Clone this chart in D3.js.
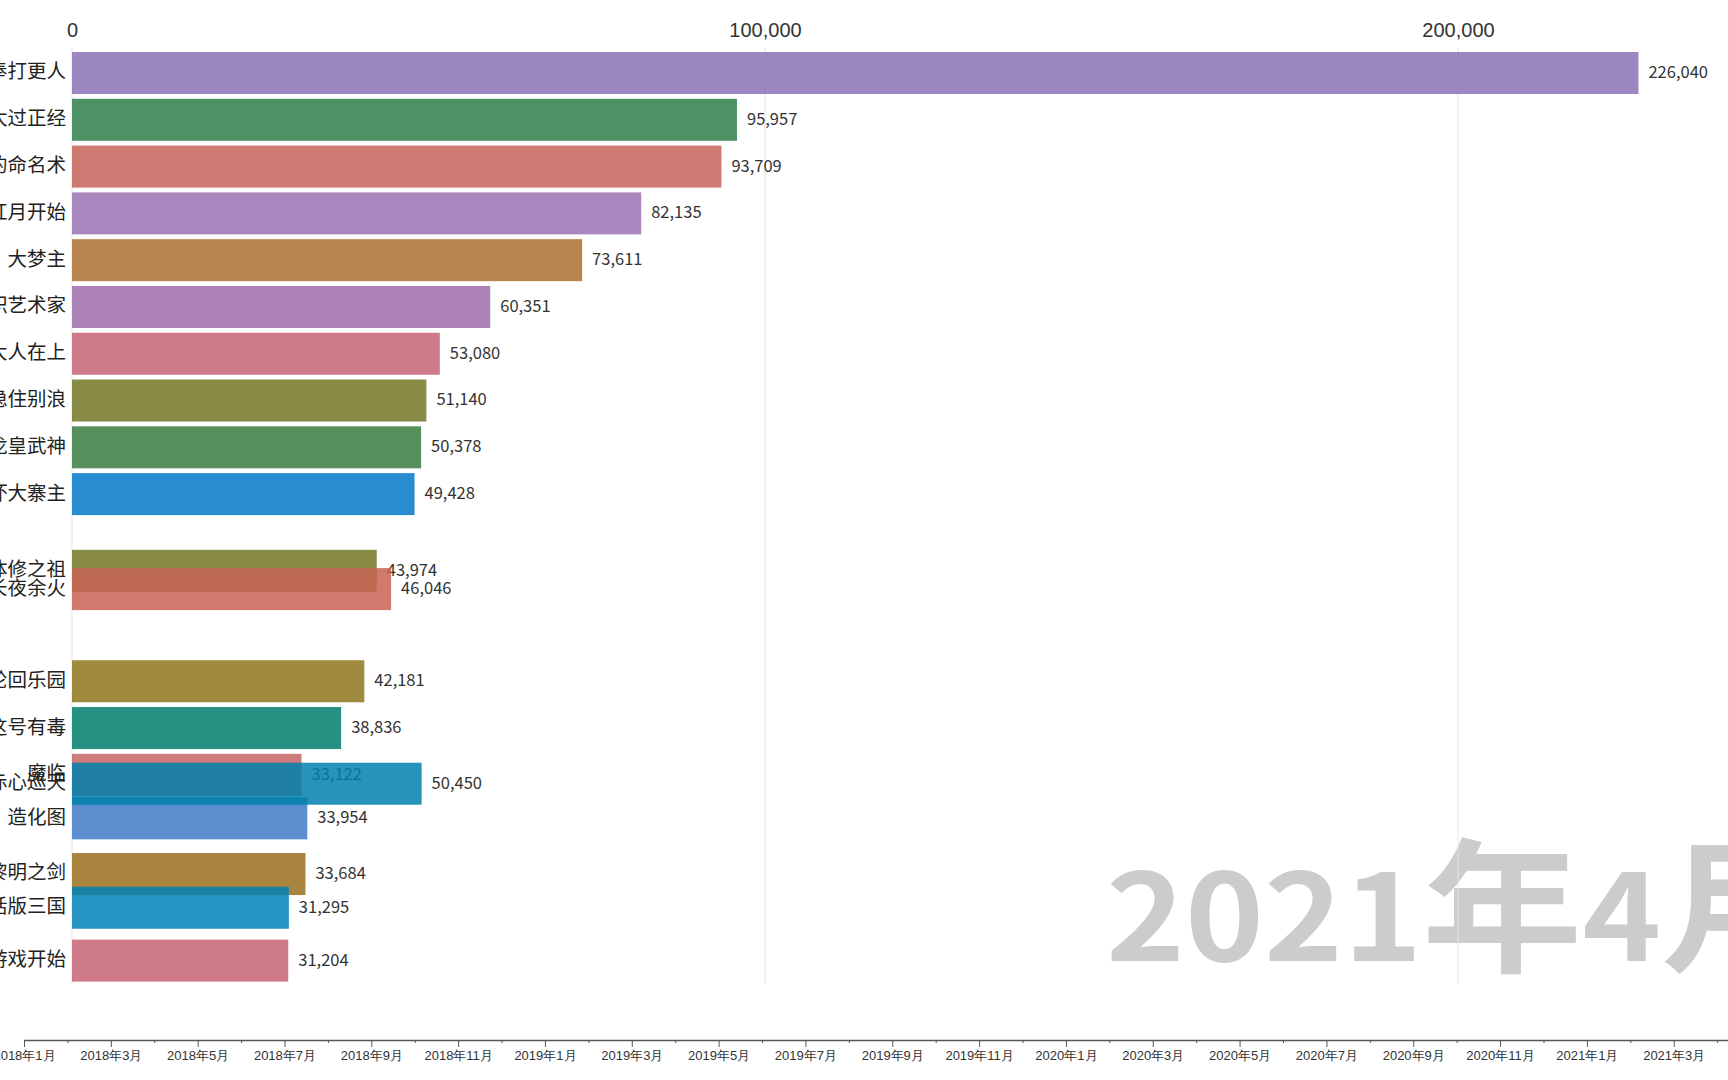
<!DOCTYPE html>
<html>
<head>
<meta charset="utf-8">
<script src="https://cdn.jsdelivr.net/npm/d3@7"></script>
<style>
  html, body { margin: 0; padding: 0; background: #fff; overflow: hidden; }
  svg { display: block; font-family: "Noto Sans CJK SC", "Noto Sans", sans-serif; }
</style>
</head>
<body>
<div id="chart"></div>
<script>
// one frame of the race (2021年4月), bars listed in drawing order
const names = ["大奉打更人", "这个人仙太过正经", "夜的命名术", "从红月开始", "大梦主",
    "全职艺术家", "大人在上", "稳住别浪", "龙皇武神", "不坏大寨主",
    "体修之祖", "长夜余火", "轮回乐园", "这号有毒", "魔临",
    "造化图", "赤心巡天", "黎明之剑", "神话版三国", "游戏开始"];
const values = [226040, 95957, 93709, 82135, 73611,
    60351, 53080, 51140, 50378, 49428,
    43974, 46046, 42181, 38836, 33122,
    33954, 50450, 33684, 31295, 31204];
// rank of each bar in this frame (fractional while bars are moving)
const ranks = [0, 1, 2, 3, 4,
    5, 6, 7, 8, 9,
    10.64, 11.03, 13, 14, 15,
    15.93, 15.19, 17.12, 17.84, 18.97];
const barColors = ["#9c87c3", "#4d9264", "#cd7a72", "#a887bf", "#b9844d",
    "#ad82b9", "#cf7a89", "#888c47", "#57905c", "#288dd0",
    "#878b44", "#cf7a6e", "#a08a3e", "#209181", "#cd7b7b",
    "#5c8ed0", "#1e93b8", "#a9853f", "#1e94c2", "#cf7a88"];
const xTicks = [0, 100000, 200000];
const monthLabels = ["2018年1月", "2018年3月", "2018年5月", "2018年7月", "2018年9月", "2018年11月",
    "2019年1月", "2019年3月", "2019年5月", "2019年7月", "2019年9月", "2019年11月",
    "2020年1月", "2020年3月", "2020年5月", "2020年7月", "2020年9月", "2020年11月",
    "2021年1月", "2021年3月"];
const currentYear = "2021", currentMonth = "4";

const width = 1728, height = 1080;
const barH = 42;
const alpha = 0.85;

const svg = d3.select("#chart").append("svg")
    .attr("width", width)
    .attr("height", height);

const x = d3.scaleLinear().domain([0, 200000]).range([72, 1458]);
const y = d3.scaleLinear().domain([0, 19]).range([52, 941]);

// colours as seen on white -> base colour under the bar opacity
function under(c) {
    const o = d3.rgb(c);
    const f = v => Math.max(0, Math.min(255, (v - 255 * (1 - alpha)) / alpha));
    return d3.rgb(f(o.r), f(o.g), f(o.b)).formatHex();
}

// big date watermark (font is a bit squat in the original)
const stamp = svg.append("text")
    .attr("transform", "translate(1106,961) scale(1,0.9)")
    .attr("fill", "#cccccc")
    .attr("font-weight", "bold");
stamp.append("tspan").attr("font-size", 134).text(currentYear);
stamp.append("tspan").attr("font-size", 160).text("年");
stamp.append("tspan").attr("font-size", 134).text(currentMonth);
stamp.append("tspan").attr("font-size", 160).text("月");

// grid lines
svg.append("g")
    .selectAll("line")
    .data(xTicks)
    .join("line")
    .attr("x1", d => x(d))
    .attr("x2", d => x(d))
    .attr("y1", 48)
    .attr("y2", 984)
    .attr("stroke", "#e2e2e2")
    .attr("stroke-width", 1);

// top value axis
const topAxis = svg.append("g")
    .attr("transform", "translate(0,40)")
    .call(d3.axisTop(x).tickValues(xTicks).tickFormat(d3.format(",")).tickSize(0).tickPadding(3));
topAxis.select(".domain").remove();
topAxis.selectAll("text")
    .attr("font-size", 20)
    .attr("fill", "#333")
    .attr("font-family", null);

// bars
const rows = svg.append("g")
    .selectAll("g")
    .data(names.map((n, i) => ({ name: n, value: values[i], rank: ranks[i], color: barColors[i] })))
    .join("g");

rows.append("rect")
    .attr("x", x(0))
    .attr("y", d => y(d.rank))
    .attr("width", d => x(d.value) - x(0))
    .attr("height", barH)
    .attr("fill", d => under(d.color))
    .attr("fill-opacity", alpha);

rows.append("text")
    .attr("x", x(0) - 6)
    .attr("y", d => y(d.rank) + barH / 2)
    .attr("dy", "0.28em")
    .attr("text-anchor", "end")
    .attr("font-size", 19.5)
    .attr("fill", "#222")
    .text(d => d.name);

rows.append("text")
    .attr("x", d => x(d.value) + 10)
    .attr("y", d => y(d.rank) + barH / 2)
    .attr("dy", "0.3em")
    .attr("font-size", 16.5)
    .attr("fill", "#333")
    .text(d => d3.format(",")(d.value));

// bottom timeline
const t = d3.scaleLinear().domain([0, 39.25]).range([24, 1728]);
const timeAxis = svg.append("g")
    .attr("transform", "translate(0,1040)")
    .call(d3.axisBottom(t)
        .tickValues(d3.range(0, 40))
        .tickSizeOuter(0)
        .tickSizeInner(7)
        .tickPadding(4)
        .tickFormat(i => i % 2 === 0 ? monthLabels[i / 2] || "" : ""));
timeAxis.select(".domain").attr("stroke", "#555").attr("stroke-width", 1.3);
timeAxis.selectAll(".tick line")
    .attr("stroke", "#555")
    .attr("y2", (d, i) => i % 2 === 0 ? 7 : 3);
timeAxis.selectAll("text")
    .attr("font-size", 13)
    .attr("fill", "#333")
    .attr("font-family", null);
</script>
</body>
</html>
